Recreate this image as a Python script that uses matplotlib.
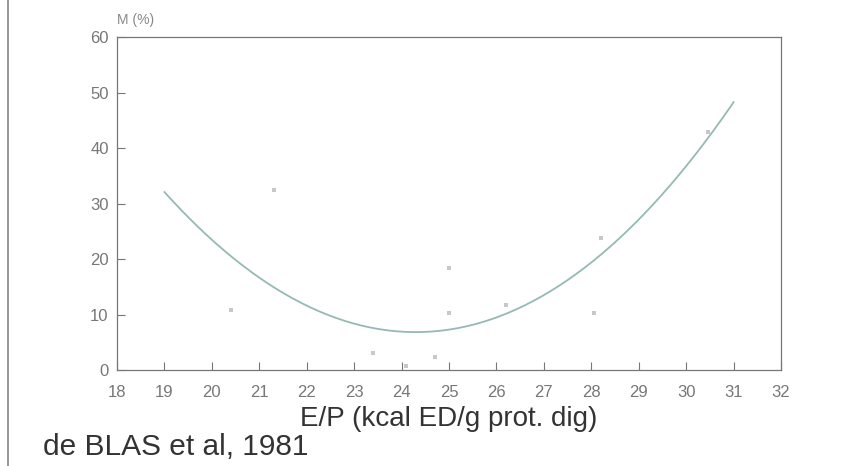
import matplotlib
matplotlib.use("Agg")
import matplotlib.pyplot as plt
from matplotlib.lines import Line2D
import numpy as np

matplotlib.rcParams['font.family'] = ['Liberation Sans', 'DejaVu Sans']

# courbe ajustée
curve_x = [19.0, 20.0, 21.0, 22.0, 23.0, 24.0, 24.7, 25.0, 26.0, 27.0, 28.0, 29.0, 30.0, 30.5, 31.0]
curve_y = [32.1, 23.4, 16.6, 11.7, 8.4, 6.9, 6.9, 7.2, 9.6, 13.2, 19.8, 27.0, 36.6, 42.3, 48.3]

# points observés
pts_x = [20.4, 21.3, 23.4, 24.1, 24.7, 25.0, 25.0, 26.2, 28.05, 28.2, 30.45]
pts_y = [10.8, 32.4, 3.0, 0.8, 2.4, 18.4, 10.3, 11.7, 10.2, 23.7, 42.9]

x_ticks = list(range(18, 33))
y_ticks = [0, 10, 20, 30, 40, 50, 60]

fig = plt.figure(figsize=(8.64, 4.66), dpi=100)
ax = fig.add_axes([0.1354, 0.206, 0.7686, 0.7146])

# lissage des points lus
coef = np.polyfit(curve_x, curve_y, 4)
xs = np.linspace(curve_x[0], curve_x[-1], 200)
ax.plot(xs, np.polyval(coef, xs), color='#95b9b4', lw=1.3)
ax.scatter(pts_x, pts_y, s=6, color='#c8c8c8', marker='s', linewidths=0)

ax.set_xlim(18, 32)
ax.set_ylim(0, 60)
ax.set_xticks(x_ticks)
ax.set_yticks(y_ticks)
ax.tick_params(direction='in', length=6, width=0.8, color='#777777',
               labelcolor='#777777', labelsize=12)
ax.tick_params(axis='x', pad=11)
ax.tick_params(axis='y', pad=6)
for s in ax.spines.values():
    s.set_color('#777777')
    s.set_linewidth(0.9)

ax.text(0.0, 1.03, 'M (%)', transform=ax.transAxes, fontsize=10,
        color='#888888', ha='left', va='bottom')
ax.set_xlabel('E/P (kcal ED/g prot. dig)', fontsize=20, color='#333333', labelpad=4)

fig.text(0.05, 0.041, 'de BLAS et al, 1981', fontsize=21.5, color='#333333',
         ha='left', va='center')

# bord de page scanné
fig.add_artist(Line2D([0.009, 0.009], [0, 1], transform=fig.transFigure,
                      color='#888888', lw=1.2))

fig.savefig('out.png', dpi=100, facecolor='white')
